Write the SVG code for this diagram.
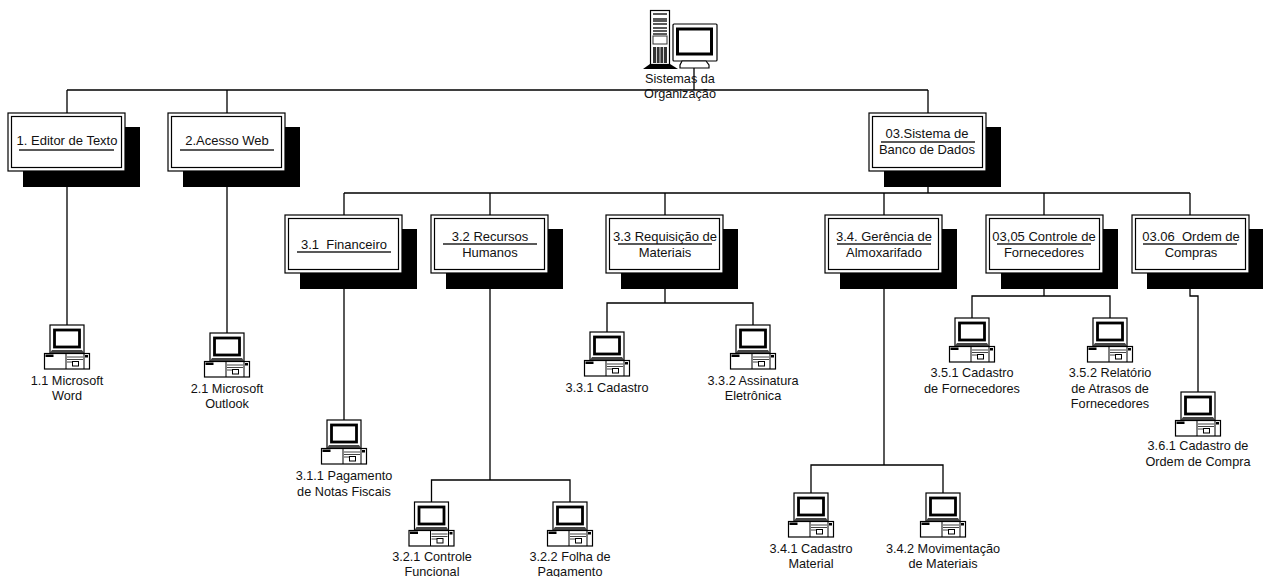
<svg xmlns="http://www.w3.org/2000/svg" width="1263" height="577" viewBox="0 0 1263 577">
<style>
text{font-family:"Liberation Sans",Arial,sans-serif;font-size:12.7px;fill:#111;text-anchor:middle;white-space:pre}
.b text{font-size:13px}
.c{fill:none;stroke:#000;stroke-width:1.3}
.o{fill:#fff;stroke:#000;stroke-width:1.2}
.t{fill:#fff;stroke:#000;stroke-width:1.2}
.fl{stroke:#222;stroke-width:1.3}
.k{fill:#000;stroke:none}
</style>
<defs>
<g id="box">
<rect class="k" x="15" y="14" width="117" height="60"/>
<rect class="o" x="0" y="0" width="117" height="58"/>
<rect class="o" x="3.500" y="3.500" width="110" height="51"/>
</g>
<g id="pc">
<rect class="t" x="-17" y="0" width="34" height="28"/>
<rect x="-12.500" y="5" width="25" height="17" fill="#fff" stroke="#000" stroke-width="2.800"/>
<path d="M-15 25H15L17 28H-17Z" fill="#444"/>
<rect class="t" x="-22.500" y="28.500" width="45" height="15.500"/>
<rect class="k" x="-21.500" y="29.500" width="8" height="2.500"/>
<path d="M-1 28.500V44M17 28.500V44" stroke="#000" stroke-width="1" fill="none"/>
<path d="M0 32H16M0 34.500H16M0 37H6" stroke="#444" stroke-width="1" fill="none"/>
<rect x="5.500" y="36.500" width="6" height="4.500" fill="#fff" stroke="#000" stroke-width="1"/>
<rect class="k" x="18" y="30" width="3" height="2.500"/>
</g>
</defs>
<g id="connectors">
<path class="c" d="M694 65V90M67 90H928M67 90V325M227 90V333M928 90V193M344 193H1190M344 193V420M490 193V480M665 193V303M884 193V465M1044 193V296M1190 193V296H1198V392"/>
<path class="c" d="M431.500 502V480H570V502M607 332V303H753V325M811 493V465H943V493M972 318V296H1110V318"/>
</g>
<g id="root">
<path class="k" d="M643 69L650 64H670L678 69Z"/>
<rect class="t" x="650.500" y="10.500" width="19" height="54"/>
<path d="M653 14H667M653 19H667M653 21H667M653 24H667M653 28H667M653 31H667M653 34H667" stroke="#222" stroke-width="1.300" fill="none"/>
<rect x="653" y="36" width="14" height="8" fill="#fff" stroke="#333"/>
<rect x="653" y="47" width="14" height="16" fill="#333"/>
<path d="M656.500 47V63M660 47V63M663.500 47V63" stroke="#fff" stroke-width=".8"/>
<rect class="t" x="673" y="24" width="44" height="37" rx="1"/>
<rect x="677.500" y="29" width="34" height="25" fill="#fff" stroke="#000" stroke-width="3"/>
<path class="t" d="M682 61H706L709 65V68H680V65Z"/>
<text x="680" y="83">Sistemas da</text>
<text x="680" y="98">Organização</text>
</g>
<g class="b">
<g id="n1"><use href="#box" x="8" y="113"/><path class="fl" d="M19 150H114"/><text x="67" y="145">1. Editor de Texto</text></g>
<g id="n2"><use href="#box" x="168" y="113"/><path class="fl" d="M180 150H274"/><text x="227" y="145">2.Acesso Web</text></g>
<g id="n3"><use href="#box" x="869" y="113"/><path class="fl" d="M881 142H975"/><text x="927" y="138">03.Sistema de</text><text x="927" y="154">Banco de Dados</text></g>
<g id="n31"><use href="#box" x="285" y="215"/><path class="fl" d="M297 252H391"/><text x="344" y="249">3.1  Financeiro</text></g>
<g id="n32"><use href="#box" x="431" y="215"/><path class="fl" d="M443 244H537"/><text x="490" y="241">3.2 Recursos</text><text x="490" y="257">Humanos</text></g>
<g id="n33"><use href="#box" x="606" y="215"/><path class="fl" d="M618 244H712"/><text x="665" y="241">3.3 Requisição de</text><text x="665" y="257">Materiais</text></g>
<g id="n34"><use href="#box" x="825" y="215"/><path class="fl" d="M837 244H931"/><text x="884" y="241">3.4. Gerência de</text><text x="884" y="257">Almoxarifado</text></g>
<g id="n35"><use href="#box" x="986" y="215"/><path class="fl" d="M997 244H1091"/><text x="1044" y="241">03,05 Controle de</text><text x="1044" y="257">Fornecedores</text></g>
<g id="n36"><use href="#box" x="1132" y="215"/><path class="fl" d="M1143 244H1237"/><text x="1191" y="241">03.06  Ordem de</text><text x="1191" y="257">Compras</text></g>
</g>
<g id="p11"><use href="#pc" x="67" y="325"/><text x="67" y="385">1.1 Microsoft</text><text x="67" y="400">Word</text></g>
<g id="p21"><use href="#pc" x="227" y="333"/><text x="227" y="393">2.1 Microsoft</text><text x="227" y="408">Outlook</text></g>
<g id="p311"><use href="#pc" x="344" y="420"/><text x="344" y="480">3.1.1 Pagamento</text><text x="344" y="496">de Notas Fiscais</text></g>
<g id="p321"><use href="#pc" x="431.500" y="502"/><text x="432" y="561">3.2.1 Controle</text><text x="432" y="576">Funcional</text></g>
<g id="p322"><use href="#pc" x="570" y="502"/><text x="570" y="561">3.2.2 Folha de</text><text x="570" y="576">Pagamento</text></g>
<g id="p331"><use href="#pc" x="607" y="332"/><text x="607" y="392">3.3.1 Cadastro</text></g>
<g id="p332"><use href="#pc" x="753" y="325"/><text x="753" y="385">3.3.2 Assinatura</text><text x="753" y="400">Eletrônica</text></g>
<g id="p341"><use href="#pc" x="811" y="493"/><text x="811" y="553">3.4.1 Cadastro</text><text x="811" y="568">Material</text></g>
<g id="p342"><use href="#pc" x="943" y="493"/><text x="943" y="553">3.4.2 Movimentação</text><text x="943" y="568">de Materiais</text></g>
<g id="p351"><use href="#pc" x="972" y="318"/><text x="972" y="377">3.5.1 Cadastro</text><text x="972" y="393">de Fornecedores</text></g>
<g id="p352"><use href="#pc" x="1110" y="318"/><text x="1110" y="377">3.5.2 Relatório</text><text x="1110" y="393">de Atrasos de</text><text x="1110" y="408">Fornecedores</text></g>
<g id="p361"><use href="#pc" x="1198" y="392"/><text x="1198" y="450">3.6.1 Cadastro de</text><text x="1198" y="466">Ordem de Compra</text></g>
</svg>
